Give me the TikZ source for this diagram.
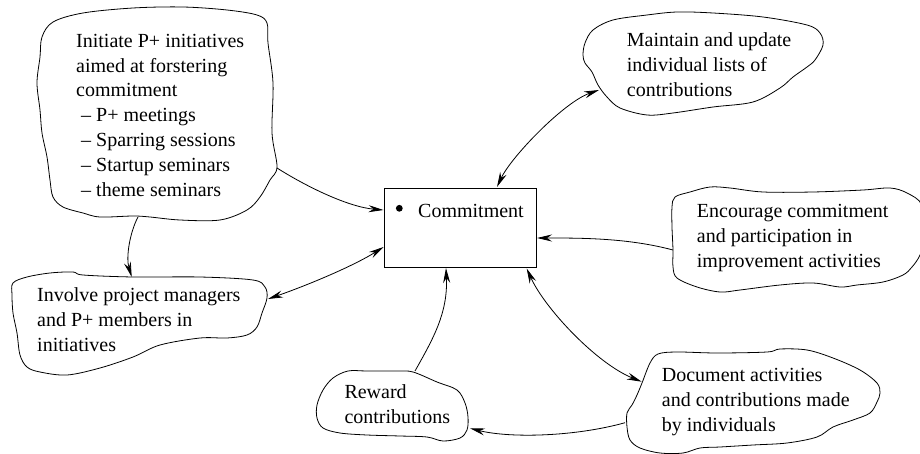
\documentclass[tikz,border=0pt]{standalone}
\usepackage{fontspec}
\setmainfont{Liberation Serif}
\usetikzlibrary{arrows.meta}
\begin{document}
\begin{tikzpicture}[x={(1pt,0pt)},y={(0pt,-1pt)},
  blob/.style={draw=black, line width=0.8pt, line join=round},
  txt/.style={anchor=north west, inner sep=0pt, align=left, font=\fontsize{20}{24.8}\selectfont},
  tip/.tip={Stealth[length=15pt,width=7pt,inset=5pt]},
  link/.style={draw=black, line width=0.8pt, -tip},
  twoway/.style={draw=black, line width=0.8pt, tip-tip}]
\useasboundingbox (0,0) rectangle (920,454);

% hand-drawn outlines
\draw[blob] plot[smooth cycle, tension=0.55] coordinates {
  (42,37) (53,22) (83,13) (133,8) (183,7) (227,10) (257,15) (267,23)
  (268,43) (273,83) (272,133) (277,167) (270,180) (260,197) (247,210)
  (220,220) (180,220) (150,217) (133,216) (100,217) (83,213) (63,207)
  (53,197) (50,180) (47,157) (42,133) (40,110) (37,83) (40,57)};
\draw[blob] plot[smooth cycle, tension=0.55] coordinates {
  (13,283) (27,277) (50,273) (73,272) (83,275) (133,277) (200,277)
  (253,280) (265,287) (267,298) (262,313) (257,327) (247,335) (227,338)
  (200,338) (160,345) (133,357) (100,368) (67,375) (40,372) (27,367)
  (20,355) (17,333) (13,313) (12,295)};
\draw[blob] plot[smooth cycle, tension=0.55] coordinates {
  (585,43) (593,30) (613,20) (647,15) (677,12) (713,13) (763,17) (807,25)
  (820,33) (823,45) (815,60) (807,67) (793,77) (780,88) (753,102)
  (713,107) (673,113) (647,115) (620,108) (607,97) (598,85) (592,72)
  (585,63) (583,55)};
\draw[blob] plot[smooth cycle, tension=0.55] coordinates {
  (675,197) (690,192) (710,187) (730,188) (763,192) (813,192) (863,190)
  (890,188) (907,193) (922,205) (926,235) (920,255) (912,267) (903,275)
  (883,282) (857,285) (840,287) (813,283) (780,285) (740,290) (720,292)
  (697,287) (677,278) (673,267) (673,250) (672,227) (672,207)};
\draw[blob] plot[smooth cycle, tension=0.55] coordinates {
  (650,363) (658,354) (677,352) (717,353) (767,352) (780,349) (807,350)
  (833,358) (860,370) (877,383) (880,393) (877,402) (870,413) (853,420)
  (833,427) (817,437) (787,443) (753,445) (720,447) (700,448) (683,453)
  (660,453) (640,448) (630,440) (627,427) (627,413) (632,405) (637,395)
  (642,383)};
\draw[blob] plot[smooth cycle, tension=0.55] coordinates {
  (348,371) (367,371) (397,371) (413,372) (437,382) (457,390) (465,403)
  (468,417) (467,430) (460,438) (443,441) (427,437) (400,436) (367,435)
  (340,433) (323,428) (317,418) (317,405) (323,390) (333,378)};

% texts
\node[txt] (initiate) at (76,33.9) {Initiate P+ initiatives\\aimed at forstering\\commitment\\
  \hspace*{5pt}– P+ meetings\\\hspace*{5pt}– Sparring sessions\\
  \hspace*{5pt}– Startup seminars\\\hspace*{5pt}– theme seminars};
\node[txt] (involve) at (37,287.9) {Involve project managers\\and P+ members in\\initiatives};
\node[txt] (maintain) at (626.7,32.9) {Maintain and update\\individual lists of\\contributions};
\node[txt] (encourage) at (696.7,204.5) {Encourage commitment\\and participation in\\improvement activities};
\node[txt] (document) at (661.7,368.5) {Document activities\\and contributions made\\by individuals};
\node[txt] (reward) at (344.3,384.5) {Reward\\contributions};

% central box
\node[draw=black, line width=0.8pt, minimum width=152pt, minimum height=79pt, inner sep=0pt]
  (commit) at (460.2,227.5) {};
\fill (399.3,208.3) circle (3.4pt);
\node[anchor=base west, inner sep=0pt, font=\fontsize{20}{24.8}\selectfont] (committxt)
  at (418,217.7) {Commitment};

% connector ends
\coordinate (i-out) at (277,168);
\coordinate (i-down) at (138,217);
\coordinate (v-top) at (131.7,277);
\coordinate (v-right) at (268,299);
\coordinate (m-left) at (599,90);
\coordinate (e-left) at (673,250);
\coordinate (d-in) at (641.7,381.7);
\coordinate (d-out) at (625,422.7);
\coordinate (r-top) at (415,371);
\coordinate (r-right) at (470,428.3);
\coordinate (c-west1) at (383.5,210);
\coordinate (c-west2) at (383.5,247);
\coordinate (c-north) at (497,187);
\coordinate (c-east) at (537,238);
\coordinate (c-south1) at (446,268);
\coordinate (c-south2) at (526.7,268.5);

% connectors
\draw[link] (i-out) .. controls +(30,19) and +(-35,-3) .. (c-west1);
\draw[link] (i-down) .. controls +(-8,15) and +(-6,-20) .. (v-top);
\draw[twoway] (v-right) .. controls +(40,-14) and +(-30,19) .. (c-west2);
\draw[twoway] (m-left) .. controls +(-35,12) and +(14,-30) .. (c-north);
\draw[link] (e-left) .. controls +(-45,-12) and +(45,0) .. (c-east);
\draw[twoway] (c-south2) .. controls +(18,40) and +(-45,-18) .. (d-in);
\draw[link] (r-top) .. controls +(18,-32) and +(2,45) .. (c-south1);
\draw[link] (d-out) .. controls +(-50,14) and +(40,10) .. (r-right);
\end{tikzpicture}
\end{document}
